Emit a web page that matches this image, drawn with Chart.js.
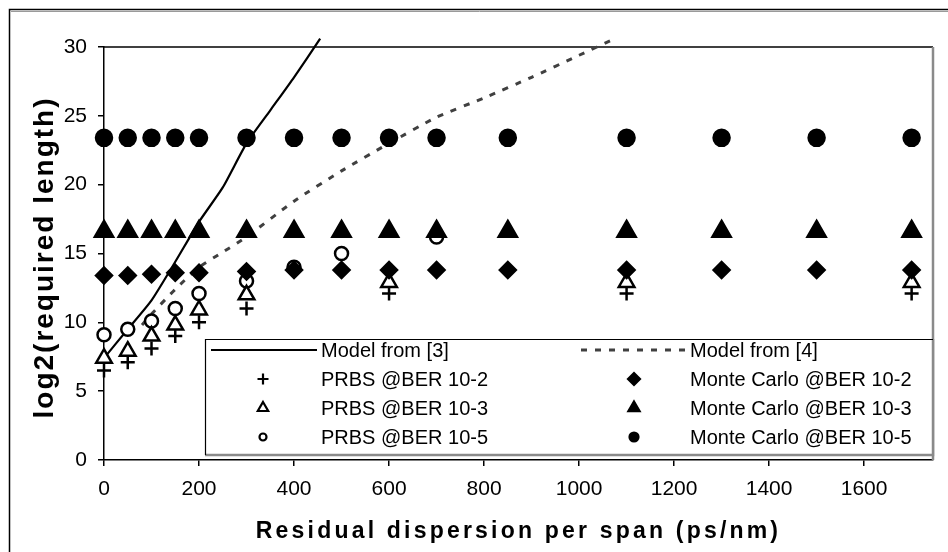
<!DOCTYPE html>
<html>
<head>
<meta charset="utf-8">
<script src="https://cdn.jsdelivr.net/npm/chart.js@4/dist/chart.umd.min.js"></script>
<style>
  html, body { margin: 0; padding: 0; background: #fff; }
  #wrap { width: 948px; height: 552px; position: relative; }
</style>
</head>
<body>
<div id="wrap"><canvas id="c" width="948" height="552"></canvas></div>
<script>
// Residual dispersion values (ps/nm) used by the Monte Carlo runs
const dispersionMC = [0, 50, 100, 150, 200, 300, 400, 500, 600, 700, 850, 1100, 1300, 1500, 1700];
const monteCarloBer2 = [13.4, 13.4, 13.5, 13.6, 13.6, 13.7, 13.8, 13.8, 13.8, 13.8, 13.8, 13.8, 13.8, 13.8, 13.8];
const monteCarloBer3 = [16.6, 16.6, 16.6, 16.6, 16.6, 16.6, 16.6, 16.6, 16.6, 16.6, 16.6, 16.6, 16.6, 16.6, 16.6];
const monteCarloBer5 = [23.4, 23.4, 23.4, 23.4, 23.4, 23.4, 23.4, 23.4, 23.4, 23.4, 23.4, 23.4, 23.4, 23.4, 23.4];

// PRBS measurements
const dispersionPrbsLow = [0, 50, 100, 150, 200, 300, 600, 1100, 1700];
const prbsBer2 = [6.5, 7.1, 8.1, 9.0, 10.0, 11.0, 12.1, 12.1, 12.1];
const prbsBer3 = [7.4, 7.9, 9.0, 9.8, 10.9, 12.0, 12.9, 12.9, 12.9];
const dispersionPrbsHigh = [0, 50, 100, 150, 200, 300, 400, 500, 700];
const prbsBer5 = [9.1, 9.5, 10.1, 11.0, 12.1, 13.0, 14.0, 15.0, 16.2];

// Analytical models
const model3X = [0, 50, 100, 150, 200, 250, 300, 350, 400, 455];
const model3Y = [7.4, 9.5, 11.6, 14.4, 17.3, 19.8, 23.0, 25.4, 27.8, 30.6];
const model4X = [80, 100, 150, 200, 250, 300, 400, 500, 600, 700, 800, 900, 1000, 1075];
const model4Y = [9.8, 10.6, 12.4, 14.0, 15.1, 16.2, 18.8, 21.0, 23.0, 24.9, 26.3, 27.8, 29.4, 30.6];

// Axis ticks
const xTicks = [0, 200, 400, 600, 800, 1000, 1200, 1400, 1600];
const yTicks = [0, 5, 10, 15, 20, 25, 30];

const xTitle = 'Residual dispersion per span (ps/nm)';
const yTitle = 'log2(required length)';

const FONT = '"Liberation Sans", Arial, Helvetica, sans-serif';

function pts(xs, ys) { return xs.map((x, i) => ({ x: x, y: ys[i] })); }

function markerSet(label, xs, ys, style, radius, fill, legendRadius) {
  return {
    label: label,
    data: pts(xs, ys),
    showLine: false,
    pointStyle: style,
    pointRadius: radius,
    pointBackgroundColor: fill,
    pointBorderColor: '#000',
    pointBorderWidth: 2.5,
    backgroundColor: fill,
    borderColor: '#000',
    legendRadius: legendRadius,
    clip: false,
    order: 1
  };
}

const datasets = [
  {
    label: 'Model from [3]',
    data: pts(model3X, model3Y),
    showLine: true,
    borderColor: '#000',
    borderWidth: 2.2,
    pointRadius: 0,
    tension: 0.2,
    fill: false,
    clip: { left: 0, top: 12, right: 0, bottom: 0 },
    order: 5
  },
  {
    label: 'Model from [4]',
    data: pts(model4X, model4Y),
    showLine: true,
    borderColor: '#404040',
    borderWidth: 3,
    borderDash: [6, 8],
    pointRadius: 0,
    tension: 0.2,
    fill: false,
    clip: { left: 0, top: 12, right: 0, bottom: 0 },
    order: 5
  },
  markerSet('PRBS @BER 10-2', dispersionPrbsLow, prbsBer2, 'cross', 7, '#000', 5.5),
  markerSet('Monte Carlo @BER 10-2', dispersionMC, monteCarloBer2, 'rectRot', 8, '#000', 6),
  markerSet('PRBS @BER 10-3', dispersionPrbsLow, prbsBer3, 'triangle', 9, '#fff', 6),
  markerSet('Monte Carlo @BER 10-3', dispersionMC, monteCarloBer3, 'triangle', 10.5, '#000', 6.5),
  markerSet('PRBS @BER 10-5', dispersionPrbsHigh, prbsBer5, 'circle', 6.5, '#fff', 3.5),
  markerSet('Monte Carlo @BER 10-5', dispersionMC, monteCarloBer5, 'circle', 8, '#000', 4.5)
];

// Frame lines: outer chart border and the plot-area border
const framePlugin = {
  id: 'frame',
  beforeDatasetsDraw(chart) {
    const { ctx, chartArea: a } = chart;
    ctx.save();
    ctx.strokeStyle = '#000';
    ctx.lineWidth = 1.5;
    ctx.beginPath();
    ctx.moveTo(a.left, a.top);
    ctx.lineTo(a.right, a.top);
    ctx.stroke();
    ctx.strokeStyle = '#8a8a8a';
    ctx.lineWidth = 2.5;
    ctx.beginPath();
    ctx.moveTo(a.right, a.top);
    ctx.lineTo(a.right, a.bottom);
    ctx.stroke();
    ctx.restore();
  },
  afterDraw(chart) {
    const ctx = chart.ctx;
    ctx.save();
    ctx.strokeStyle = '#000';
    ctx.lineWidth = 1.5;
    ctx.strokeRect(9.5, 9.5, 1000, 600);
    ctx.strokeStyle = '#9a9a9a';
    ctx.lineWidth = 1;
    ctx.beginPath();
    ctx.moveTo(11, 11.5); ctx.lineTo(948, 11.5);
    ctx.stroke();
    ctx.restore();
  }
};

// Boxed two-column key drawn inside the plot
const keyBox = { left: 205, top: 339, right: 933, bottom: 455 };
const keyRows = [350, 379, 408, 437];
const keyCols = [
  { sampleFrom: 211, sampleTo: 317, symbol: 263, text: 321 },
  { sampleFrom: 581, sampleTo: 687, symbol: 634, text: 690 }
];

const keyPlugin = {
  id: 'key',
  afterDatasetsDraw(chart) {
    const ctx = chart.ctx;
    const b = keyBox;
    ctx.save();
    ctx.fillStyle = '#fff';
    ctx.fillRect(b.left, b.top, b.right - b.left, b.bottom - b.top);
    ctx.strokeStyle = '#8a8a8a';
    ctx.lineWidth = 2.5;
    ctx.beginPath();
    ctx.moveTo(b.right, b.top); ctx.lineTo(b.right, b.bottom); ctx.lineTo(b.left, b.bottom);
    ctx.stroke();
    ctx.strokeStyle = '#000';
    ctx.lineWidth = 1.2;
    ctx.beginPath();
    ctx.moveTo(b.left + 0.5, b.bottom); ctx.lineTo(b.left + 0.5, b.top + 0.5); ctx.lineTo(b.right, b.top + 0.5);
    ctx.stroke();

    chart.data.datasets.forEach((ds, i) => {
      const row = Math.floor(i / 2);
      const col = keyCols[i % 2];
      const y = keyRows[row];
      if (ds.showLine) {
        ctx.save();
        ctx.strokeStyle = ds.borderColor;
        ctx.lineWidth = ds.borderWidth;
        ctx.setLineDash(ds.borderDash || []);
        ctx.beginPath();
        ctx.moveTo(col.sampleFrom, y);
        ctx.lineTo(col.sampleTo, y);
        ctx.stroke();
        ctx.restore();
      } else {
        ctx.save();
        ctx.fillStyle = ds.pointBackgroundColor;
        ctx.strokeStyle = ds.pointBorderColor;
        ctx.lineWidth = 2.2;
        Chart.helpers.drawPoint(ctx, {
          pointStyle: ds.pointStyle, radius: ds.legendRadius, borderWidth: 2.2, rotation: 0
        }, col.symbol, y);
        ctx.restore();
      }
      ctx.fillStyle = '#000';
      ctx.font = '20px ' + FONT;
      ctx.textAlign = 'left';
      ctx.textBaseline = 'middle';
      ctx.fillText(ds.label, col.text, y + 1);
    });
    ctx.restore();
  }
};

// Letter-spaced bold axis titles
const titlePlugin = {
  id: 'titles',
  afterDraw(chart) {
    const { ctx, chartArea: a } = chart;
    ctx.save();
    ctx.fillStyle = '#000';
    ctx.font = 'bold 23px ' + FONT;
    ctx.textAlign = 'center';
    ctx.textBaseline = 'middle';
    ctx.letterSpacing = '3.2px';
    ctx.fillText(xTitle, (a.left + a.right) / 2, 532);
    ctx.translate(45, (a.top + a.bottom) / 2 + 4);
    ctx.rotate(-Math.PI / 2);
    ctx.letterSpacing = '2px';
    ctx.font = 'bold 28px ' + FONT;
    ctx.fillText(yTitle, 0, 0);
    ctx.restore();
  }
};

new Chart(document.getElementById('c'), {
  type: 'scatter',
  data: { datasets: datasets },
  options: {
    responsive: false,
    animation: false,
    events: [],
    layout: { padding: { left: 0, right: 15, top: 47, bottom: 0 } },
    plugins: { legend: { display: false }, tooltip: { enabled: false } },
    scales: {
      x: {
        type: 'linear',
        min: 0,
        max: 1745,
        afterBuildTicks(scale) { scale.ticks = xTicks.map(v => ({ value: v })); },
        afterFit(scale) { scale.height = 92; },
        ticks: {
          font: { family: FONT, size: 21 }, color: '#000', padding: 11, maxRotation: 0,
          callback: (v) => String(v)
        },
        grid: { drawOnChartArea: false, drawTicks: true, tickLength: 6, color: '#000', lineWidth: 1.5 },
        border: { color: '#000', width: 1.5 }
      },
      y: {
        type: 'linear',
        min: 0,
        max: 30,
        afterBuildTicks(scale) { scale.ticks = yTicks.map(v => ({ value: v })); },
        afterFit(scale) { scale.width = 104; },
        ticks: { font: { family: FONT, size: 21 }, color: '#000', padding: 11, callback: (v) => String(v) },
        grid: { drawOnChartArea: false, drawTicks: true, tickLength: 6, color: '#000', lineWidth: 1.5 },
        border: { color: '#000', width: 1.5 }
      }
    }
  },
  plugins: [framePlugin, keyPlugin, titlePlugin]
});
</script>
</body>
</html>
